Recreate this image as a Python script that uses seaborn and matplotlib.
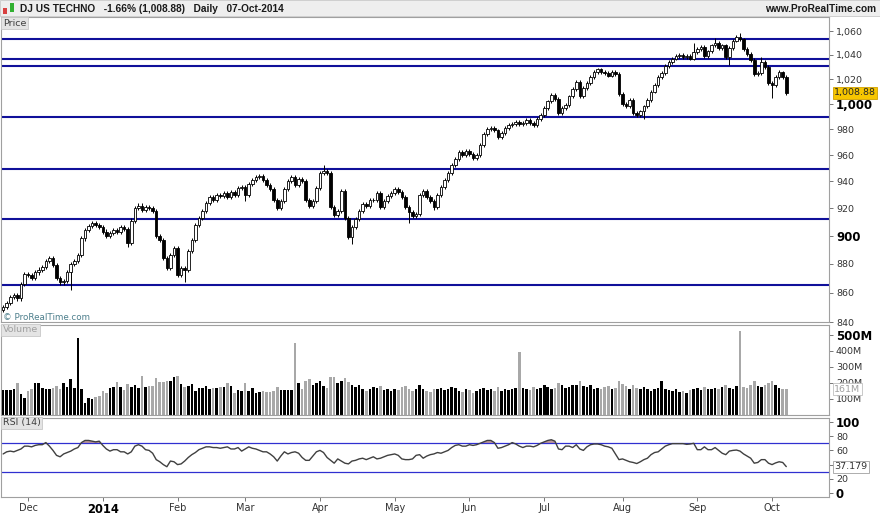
import numpy as np
import pandas as pd
import seaborn as sns
import matplotlib.pyplot as plt
from matplotlib.patches import Rectangle
from matplotlib.ticker import FixedLocator, NullLocator
import matplotlib.transforms as mtrans

# trading calendar (NYSE holidays removed)
holidays = ["2013-11-28", "2013-12-25", "2014-01-01", "2014-01-20", "2014-02-17",
            "2014-04-18", "2014-05-26", "2014-07-04", "2014-09-01"]
days = pd.bdate_range("2013-11-20", "2014-10-07")
days = days[~days.isin(pd.to_datetime(holidays))]

close = [850, 853, 857, 858, 856, 866, 873, 872, 870, 874, 876, 878, 882, 884, 879, 870, 867, 868, 874, 880,
         882, 886, 898, 904, 907, 909, 908, 906, 903, 900, 902, 904, 903, 906, 905, 895, 911, 920, 922, 919,
         921, 920, 918, 900, 897, 884, 877, 886, 891, 872, 877, 876, 889, 897, 908, 913, 918, 924, 928, 926,
         930, 929, 931, 928, 932, 930, 935, 936, 930, 938, 941, 943, 944, 941, 937, 934, 926, 920, 925, 934,
         940, 943, 937, 942, 940, 926, 922, 925, 935, 946, 948, 946, 921, 915, 918, 933, 913, 899, 906, 912,
         918, 923, 922, 926, 926, 931, 921, 925, 929, 931, 934, 932, 928, 921, 917, 914, 916, 930, 933, 928,
         925, 921, 930, 936, 941, 946, 952, 957, 962, 960, 963, 961, 958, 960, 968, 976, 980, 981, 979, 974,
         977, 981, 983, 984, 986, 984, 985, 987, 985, 983, 988, 991, 997, 1002, 1007, 1004, 993, 997, 999, 1006,
         1012, 1018, 1006, 1013, 1017, 1022, 1026, 1028, 1026, 1025, 1023, 1026, 1024, 1008, 1000, 998, 1003, 993, 991, 994,
         998, 1003, 1010, 1015, 1022, 1025, 1031, 1034, 1037, 1039, 1040, 1038, 1039, 1037, 1042, 1045, 1047, 1039, 1043, 1048,
         1050, 1046, 1048, 1038, 1046, 1052, 1055, 1053, 1045, 1041, 1036, 1024, 1025, 1034, 1030, 1017, 1015, 1022, 1026, 1022,
         1008.88]
first_open = 848

# notable wick extremes
wick_low = {19: 862, 51: 867, 98: 894, 114: 909, 121: 919, 68: 925, 180: 988, 216: 1005, 204: 1032, 35: 892}
wick_high = {90: 952, 200: 1054, 207: 1058, 194: 1050, 213: 1038, 219: 1027}

volume = [156, 156, 156, 160, 198, 131, 104, 152, 160, 198, 198, 167, 163, 163, 171, 183, 163, 202, 177, 225,
          171, 479, 160, 73, 108, 100, 110, 121, 152, 135, 171, 173, 204, 173, 156, 192, 177, 188, 167, 244,
          173, 181, 181, 229, 208, 204, 213, 213, 240, 244, 194, 177, 181, 192, 152, 167, 167, 183, 160, 167,
          167, 173, 173, 202, 181, 140, 156, 152, 202, 152, 167, 140, 146, 150, 146, 146, 152, 173, 156, 156,
          156, 156, 448, 198, 160, 210, 225, 190, 200, 215, 180, 170, 235, 240, 200, 215, 230, 205, 190, 175,
          185, 160, 150, 165, 175, 170, 180, 155, 160, 150, 165, 155, 175, 180, 160, 150, 165, 185, 160, 150,
          145, 165, 160, 170, 155, 160, 175, 170, 150, 145, 160, 155, 140, 150, 165, 170, 155, 160, 150, 175,
          150, 165, 155, 160, 170, 395, 170, 160, 155, 175, 165, 170, 185, 175, 160, 170, 200, 185, 170, 175,
          190, 185, 210, 180, 175, 185, 165, 170, 160, 175, 180, 165, 170, 215, 195, 180, 165, 190, 170, 160,
          175, 165, 150, 160, 170, 215, 165, 155, 150, 160, 145, 150, 140, 155, 160, 170, 155, 175, 160, 165,
          170, 160, 175, 185, 170, 165, 180, 525, 175, 170, 185, 210, 180, 175, 190, 200, 215, 185, 170, 165,
          161]

rsi = [55, 58, 59, 58, 60, 62, 66, 66, 65, 67, 68, 68, 71, 66, 60, 53, 51, 55, 57, 59,
       62, 64, 71, 74, 74, 73, 72, 73, 67, 62, 59, 61, 61, 58, 58, 55, 58, 66, 68, 66,
       61, 60, 56, 47, 44, 40, 37, 45, 44, 40, 41, 45, 50, 54, 57, 61, 63, 65, 65, 64,
       64, 63, 64, 65, 62, 62, 64, 59, 62, 65, 63, 62, 60, 58, 58, 55, 51, 45, 52, 58,
       55, 57, 58, 56, 50, 46, 46, 52, 58, 60, 57, 50, 46, 42, 48, 45, 42, 41, 45, 46,
       48, 49, 47, 49, 51, 48, 49, 51, 53, 54, 55, 53, 48, 47, 47, 48, 53, 54, 49, 52,
       54, 55, 57, 56, 58, 60, 64, 67, 68, 66, 66, 68, 67, 68, 70, 72, 74, 74, 71, 63,
       64, 66, 68, 71, 69, 66, 64, 66, 66, 65, 67, 70, 72, 74, 75, 73, 62, 61, 66, 66,
       64, 68, 62, 60, 65, 68, 69, 69, 68, 66, 65, 63, 55, 47, 48, 46, 44, 43, 41.5, 44,
       47, 49, 54, 57, 58, 62, 66, 68, 69.5, 69.5, 69.5, 69.5, 68.5, 69, 70, 61, 61, 65, 61, 61,
       64, 60, 56, 54, 59, 60, 60.5, 59, 55, 52, 49, 42, 43, 47, 47, 42, 40, 42.4, 44, 43,
       37.179]

levels = [1053, 1037, 1031, 990, 949, 912, 865]

price_ticks = [840, 860, 880, 900, 920, 940, 960, 980, 1000, 1020, 1040, 1060]
vol_ticks = [100, 200, 300, 400, 500]
rsi_ticks = [0, 20, 40, 60, 80, 100]

df = pd.DataFrame({"date": days, "close": close, "volume": volume, "rsi": rsi})
df["i"] = np.arange(len(df))
df["open"] = df["close"].shift(1).fillna(first_open)
df["up"] = df["close"] >= df["open"]
df["body_lo"] = df[["open", "close"]].min(axis=1)
df["body_hi"] = df[["open", "close"]].max(axis=1)
df["low"] = [wick_low.get(k, b - 1.5) for k, b in zip(df["i"], df["body_lo"])]
df["high"] = [wick_high.get(k, b + 1.5) for k, b in zip(df["i"], df["body_hi"])]

sns.set_style("white")
plt.rcParams["font.family"] = ["DejaVu Sans"]

W, H = 880, 516
fig = plt.figure(figsize=(W / 100, H / 100), dpi=100)
fig.patch.set_facecolor("white")

def box(top, bottom):
    return [1 / W, 1 - bottom / H, 828 / W, (bottom - top) / H]

ax_p = fig.add_axes(box(17, 322))
ax_v = fig.add_axes(box(325, 415))
ax_r = fig.add_axes(box(418, 497))

edge = "#a0a0a0"
for ax in (ax_p, ax_v, ax_r):
    for s in ax.spines.values():
        s.set_color(edge)
        s.set_linewidth(0.8)
    ax.set_xlim(-0.6, 232)
    ax.yaxis.tick_right()
    ax.tick_params(axis="y", direction="out", length=3, width=0.6, colors="#606060",
                   labelsize=6.8, labelcolor="#333333", pad=2)
    ax.tick_params(axis="x", bottom=False, labelbottom=False)

# price panel
for lv in levels:
    ax_p.axhline(lv, color="#10109a", lw=1.5, zorder=1)
ax_p.vlines(df["i"], df["low"], df["high"], color="black", lw=0.7, zorder=2)
heights = np.maximum(df["body_hi"] - df["body_lo"], 0.4)
ax_p.bar(df["i"], heights, bottom=df["body_lo"], width=0.72,
         color=np.where(df["up"], "white", "black"), edgecolor="black", linewidth=0.6, zorder=3)
ax_p.set_yscale("log")
ax_p.set_ylim(840, 1072)
ax_p.yaxis.set_major_locator(FixedLocator(price_ticks))
ax_p.yaxis.set_minor_locator(NullLocator())
ax_p.set_yticklabels([f"{t:,}" for t in price_ticks])
for lbl in ax_p.get_yticklabels():
    if lbl.get_text() in ("1,000", "900"):
        lbl.set_fontweight("bold")
        lbl.set_fontsize(8.5)
        lbl.set_color("black")
yb = mtrans.blended_transform_factory(ax_p.transAxes, ax_p.transData)
ax_p.text(1.006, close[-1], f"{close[-1]:,.2f}", transform=yb, fontsize=6.8, va="center", ha="left",
          bbox=dict(boxstyle="square,pad=0.15", fc="#f7c600", ec="#d0a000", lw=0.6), zorder=5)
ax_p.text(0.003, 0.0, "\u00a9 ProRealTime.com", transform=ax_p.transAxes, fontsize=6.3,
          color="#4d7f8c", va="bottom", ha="left")

# volume panel
ax_v.bar(df["i"], df["volume"], width=0.72, color=np.where(df["up"], "black", "#a8a8a8"), linewidth=0)
ax_v.set_ylim(0, 562)
ax_v.yaxis.set_major_locator(FixedLocator(vol_ticks))
ax_v.set_yticklabels([f"{t}M" for t in vol_ticks])
for lbl in ax_v.get_yticklabels():
    if lbl.get_text() == "500M":
        lbl.set_fontweight("bold")
        lbl.set_fontsize(8.5)
        lbl.set_color("black")
vb = mtrans.blended_transform_factory(ax_v.transAxes, ax_v.transData)
ax_v.text(1.006, volume[-1], f"{volume[-1]}M", transform=vb, fontsize=6.8, va="center", ha="left",
          color="#a0a0a0", bbox=dict(boxstyle="square,pad=0.15", fc="white", ec="#c0c0c0", lw=0.6), zorder=5)

# RSI panel
ax_r.axhline(70, color="#3030d0", lw=0.9)
ax_r.axhline(30, color="#3030d0", lw=0.9)
r = np.array(rsi, dtype=float)
ax_r.fill_between(df["i"], r, 70, where=r > 70, interpolate=True, color="#b08080", alpha=0.8, lw=0)
sns.lineplot(data=df, x="i", y="rsi", ax=ax_r, color="#404040", lw=1.0)
ax_r.set_xlabel("")
ax_r.set_ylabel("")
ax_r.set_ylim(-5.6, 105.6)
ax_r.set_xlim(-0.6, 232)
ax_r.yaxis.set_major_locator(FixedLocator(rsi_ticks))
# the 40 label sits under the current-value tag, as on the original
ax_r.set_yticklabels(["" if t == 40 else str(t) for t in rsi_ticks])
for lbl in ax_r.get_yticklabels():
    if lbl.get_text() in ("0", "100"):
        lbl.set_fontweight("bold")
        lbl.set_fontsize(8.5)
        lbl.set_color("black")
rb = mtrans.blended_transform_factory(ax_r.transAxes, ax_r.transData)
ax_r.text(1.006, rsi[-1], f"{rsi[-1]:.3f}", transform=rb, fontsize=6.8, va="center", ha="left",
          color="#333333", bbox=dict(boxstyle="square,pad=0.15", fc="white", ec="#a0a0a0", lw=0.6), zorder=5)

# month ticks on the bottom panel
month_start = df.groupby(df["date"].dt.to_period("M"))["i"].min().iloc[1:]
month_lbl = ["2014" if p.month == 1 else p.strftime("%b") for p in month_start.index]
ax_r.set_xticks(month_start.values)
ax_r.set_xticklabels(month_lbl)
ax_r.tick_params(axis="x", bottom=True, labelbottom=True, direction="out", length=3, width=0.6,
                 colors="#606060", labelsize=7, labelcolor="#333333", pad=1.5)
for lbl in ax_r.get_xticklabels():
    if lbl.get_text() == "2014":
        lbl.set_fontweight("bold")
        lbl.set_fontsize(8.3)
        lbl.set_color("black")

# panel name tags
for ax, name, col in ((ax_p, "Price", "#404040"), (ax_v, "Volume", "#a0a0a0"), (ax_r, "RSI (14)", "#404040")):
    ax.text(0.002, 0.995, name, transform=ax.transAxes, fontsize=6.8, color=col, va="top", ha="left",
            bbox=dict(boxstyle="square,pad=0.2", fc="#e4e4e4", ec="#c8c8c8", lw=0.6), zorder=6)

# header bar
fig.patches.append(Rectangle((0, 1 - 16 / H), 1, 16 / H, transform=fig.transFigure,
                             fc="#eeeeee", ec="#c8c8c8", lw=0.6))
fig.patches.append(Rectangle((3 / W, 1 - 14 / H), 4 / W, 6 / H, transform=fig.transFigure, fc="#d84040", ec="none"))
fig.patches.append(Rectangle((10 / W, 1 - 12 / H), 4 / W, 9 / H, transform=fig.transFigure, fc="#30b030", ec="none"))
fig.text(20 / W, 1 - 8.5 / H, "DJ US TECHNO   -1.66% (1,008.88)   Daily   07-Oct-2014",
         fontsize=7.3, fontweight="bold", color="#1a1a1a", va="center", ha="left",
         family=["Liberation Sans", "DejaVu Sans"])
fig.text(1 - 4 / W, 1 - 8.5 / H, "www.ProRealTime.com", fontsize=7.3, fontweight="bold",
         color="#1a1a1a", va="center", ha="right", family=["Liberation Sans", "DejaVu Sans"])

fig.savefig("out.png", dpi=100)
